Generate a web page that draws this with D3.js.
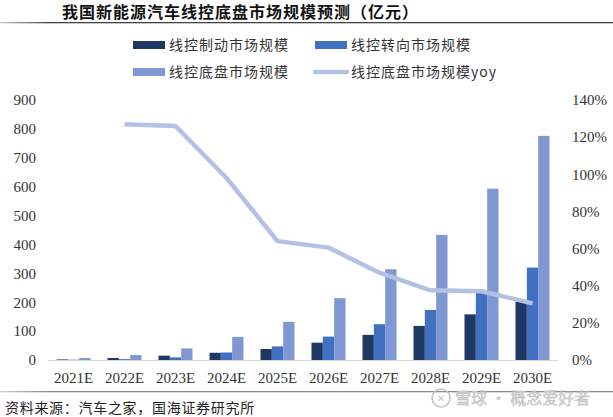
<!DOCTYPE html>
<html>
<head>
<meta charset="utf-8">
<script src="https://cdn.jsdelivr.net/npm/d3@7"></script>
<style>
  html, body { margin: 0; padding: 0; background: #fff; }
  svg { display: block; }
</style>
</head>
<body>
<div id="chart"></div>
<script>
// 线控底盘市场规模预测 - grouped bars + yoy line (right axis)
const W = 613, H = 417;

const years = ['2021E', '2022E', '2023E', '2024E', '2025E', '2026E', '2027E', '2028E', '2029E', '2030E'];
const brake = [2, 7, 15, 25, 38, 60, 87, 118, 158, 202];      // 线控制动
const steer = [1, 3, 9, 26, 47, 81, 124, 173, 241, 320];      // 线控转向
const chassis = [7, 17, 40, 80, 132, 214, 314, 433, 593, 776]; // 线控底盘
const yoy = [null, 1.27, 1.26, 0.98, 0.64, 0.605, 0.47, 0.375, 0.37, 0.305];

const leftTicks = [0, 100, 200, 300, 400, 500, 600, 700, 800, 900];
const rightTicks = [0, 0.2, 0.4, 0.6, 0.8, 1.0, 1.2, 1.4];

const seriesNames = ['线控制动市场规模', '线控转向市场规模', '线控底盘市场规模', '线控底盘市场规模yoy'];
const colors = ['#203864', '#4270c0', '#7f97d3', '#b4c1e5'];

const svg = d3.select('#chart').append('svg')
  .attr('width', W).attr('height', H);

const defs = svg.append('defs');
const fade = defs.append('linearGradient').attr('id', 'fade');
fade.append('stop').attr('offset', '0%').attr('stop-color', '#c8c8c8');
fade.append('stop').attr('offset', '8%').attr('stop-color', '#444');
fade.append('stop').attr('offset', '100%').attr('stop-color', '#444');
const fade2 = defs.append('linearGradient').attr('id', 'fade2');
fade2.append('stop').attr('offset', '0%').attr('stop-color', '#d0d0d0');
fade2.append('stop').attr('offset', '8%').attr('stop-color', '#8a8a8a');
fade2.append('stop').attr('offset', '100%').attr('stop-color', '#8a8a8a');

// title
svg.append('text')
  .attr('x', 62).attr('y', 18)
  .style('font-family', '"Noto Sans CJK SC"')
  .style('font-weight', 700)
  .style('font-size', '16px')
  .style('letter-spacing', '1px')
  .attr('fill', '#111')
  .text('我国新能源汽车线控底盘市场规模预测（亿元）');

svg.append('rect').attr('x', 0).attr('y', 22).attr('width', W).attr('height', 1.3).attr('fill', 'url(#fade)');

// legend
const legendItems = [
  {x: 133, y: 45, type: 'rect', i: 0},
  {x: 315, y: 45, type: 'rect', i: 1},
  {x: 133, y: 72, type: 'rect', i: 2},
  {x: 315, y: 72, type: 'line', i: 3}
];
const lg = svg.append('g').style('font-family', '"Noto Sans CJK SC"').style('font-size', '14px');
legendItems.forEach(d => {
  if (d.type === 'rect') {
    lg.append('rect').attr('x', d.x).attr('y', d.y - 4).attr('width', 32).attr('height', 8).attr('fill', colors[d.i]);
  } else {
    lg.append('line').attr('x1', d.x).attr('x2', d.x + 32).attr('y1', d.y).attr('y2', d.y)
      .attr('stroke', colors[d.i]).attr('stroke-width', 4.5).attr('stroke-linecap', 'round');
  }
  lg.append('text').attr('x', d.x + 36).attr('y', d.y).attr('dy', '0.36em')
    .attr('fill', '#333').style('letter-spacing', '1px')
    .text(seriesNames[d.i]);
});

// scales
const x0 = 48, x1 = 558, yTop = 100, yBot = 360;
const x = d3.scaleBand().domain(years).range([x0, x1]).paddingInner(1 / 3).paddingOuter(1 / 6);
const xs = d3.scaleBand().domain([0, 1, 2]).range([0, x.bandwidth()]);
const y = d3.scaleLinear().domain([0, 900]).range([yBot, yTop]);
const y2 = d3.scaleLinear().domain([0, 1.4]).range([yBot, yTop]);

// bars
const series = [brake, steer, chassis];
const groups = svg.append('g').selectAll('g').data(years).join('g')
  .attr('transform', d => `translate(${x(d)},0)`);
groups.selectAll('rect')
  .data((d, i) => series.map((s, k) => ({k, v: s[i]})))
  .join('rect')
  .attr('x', d => xs(d.k))
  .attr('width', xs.bandwidth())
  .attr('y', d => y(d.v))
  .attr('height', d => yBot - y(d.v))
  .attr('fill', d => colors[d.k]);

// baseline
svg.append('line').attr('x1', x0).attr('x2', x1).attr('y1', yBot + 0.5).attr('y2', yBot + 0.5)
  .attr('stroke', '#d9d9d9').attr('stroke-width', 1.2);

// yoy line
const line = d3.line()
  .defined(d => d != null)
  .x((d, i) => x(years[i]) + x.bandwidth() / 2)
  .y(d => y2(d));
svg.append('path').datum(yoy)
  .attr('d', line)
  .attr('fill', 'none')
  .attr('stroke', colors[3])
  .attr('stroke-width', 4.5)
  .attr('stroke-linejoin', 'round');

// axes
const numFont = '"Liberation Serif", "Times New Roman", serif';
const leftAxis = svg.append('g').attr('transform', 'translate(36,0)')
  .call(d3.axisLeft(y).tickValues(leftTicks).tickSize(0).tickPadding(0));
const rightAxis = svg.append('g').attr('transform', 'translate(572,0)')
  .call(d3.axisRight(y2).tickValues(rightTicks).tickSize(0).tickPadding(0).tickFormat(d3.format('.0%')));
const bottomAxis = svg.append('g').attr('transform', `translate(0,${yBot})`)
  .call(d3.axisBottom(x).tickSize(0).tickPadding(12));
[leftAxis, rightAxis, bottomAxis].forEach(a => {
  a.select('.domain').remove();
  a.attr('font-family', null).attr('font-size', null);
  a.selectAll('text')
    .style('font-family', numFont)
    .style('font-size', '15px')
    .attr('fill', '#333');
});
bottomAxis.selectAll('text').attr('dy', '0.71em').attr('y', 12);

// source line + text
svg.append('rect').attr('x', 0).attr('y', 391).attr('width', W).attr('height', 1.3).attr('fill', 'url(#fade2)');
svg.append('text')
  .attr('x', 5).attr('y', 413)
  .style('font-family', '"Noto Sans CJK SC"')
  .style('font-size', '14px')
  .style('letter-spacing', '0.7px')
  .attr('fill', '#222')
  .text('资料来源：汽车之家，国海证券研究所');

// watermark
const wm = svg.append('g');
wm.append('circle').attr('cx', 441).attr('cy', 398).attr('r', 9)
  .attr('fill', 'none').attr('stroke', '#c4c4c4').attr('stroke-width', 1.5);
wm.append('text').attr('x', 441).attr('y', 398).attr('dy', '0.35em').attr('text-anchor', 'middle')
  .style('font-family', '"DejaVu Sans"').style('font-size', '10px').attr('fill', '#c4c4c4').text('✕');
wm.append('text').attr('x', 455).attr('y', 404)
  .style('font-family', '"Noto Sans CJK SC"').style('font-size', '16px')
  .attr('fill', '#d2d2d2').attr('stroke', '#bdbdbd').attr('stroke-width', 0.4)
  .text('雪球 · 概念爱好者');
</script>
</body>
</html>
